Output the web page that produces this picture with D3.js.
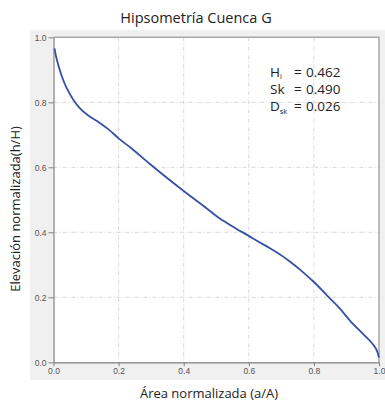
<!DOCTYPE html>
<html><head><meta charset="utf-8">
<script src="https://cdn.jsdelivr.net/npm/d3@7"></script>
<style>body{margin:0;background:#fff}svg{display:block}</style>
</head><body>
<script>
const areaVals = [0.003, 0.007, 0.012, 0.02, 0.03, 0.045, 0.065, 0.08, 0.11, 0.14, 0.17, 0.2, 0.24, 0.3, 0.4, 0.47, 0.51, 0.56, 0.6, 0.63, 0.665, 0.7, 0.73, 0.76, 0.8, 0.85, 0.88, 0.91, 0.955, 0.98, 0.995, 1.0];
const elevVals = [0.966, 0.945, 0.925, 0.897, 0.868, 0.835, 0.802, 0.783, 0.757, 0.738, 0.716, 0.689, 0.658, 0.607, 0.527, 0.474, 0.443, 0.412, 0.389, 0.371, 0.351, 0.329, 0.307, 0.283, 0.247, 0.196, 0.165, 0.129, 0.083, 0.057, 0.032, 0.015];
const tickVals = [0, 0.2, 0.4, 0.6, 0.8, 1.0];
const statLabels = [["H","i"],["Sk",""],["D","sk"]];
const statValues = ["0.462","0.490","0.026"];
const title = "Hipsometría Cuenca G";
const xTitle = "Área normalizada (a/A)";
const yTitle = "Elevación normalizada(h/H)";

const W=385,H=408;
const svg=d3.select("body").append("svg").attr("width",W).attr("height",H);
const x0=53.5,x1=379,y0=362.3,y1=37.3;
const x=d3.scaleLinear().domain([0,1]).range([x0,x1]);
const y=d3.scaleLinear().domain([0,1]).range([y0,y1]);

svg.append("rect").attr("x",30).attr("y",30).attr("width",355).attr("height",350).attr("fill","#f0f0f0");
svg.append("rect").attr("x",x0).attr("y",y1).attr("width",x1-x0).attr("height",y0-y1).attr("fill","#fff");

// grid
const g=svg.append("g");
g.selectAll(".gx").data(tickVals.filter(d=>d>0&&d<1)).join("line")
 .attr("x1",d=>x(d)).attr("x2",d=>x(d)).attr("y1",y1).attr("y2",y0)
 .attr("stroke","#d8d8d8").attr("stroke-dasharray","4,2,1,2");
g.selectAll(".gy").data(tickVals.filter(d=>d>0&&d<1)).join("line")
 .attr("y1",d=>y(d)).attr("y2",d=>y(d)).attr("x1",x0).attr("x2",x1)
 .attr("stroke","#d8d8d8").attr("stroke-dasharray","4,2,1,2");

// frame top/right
svg.append("path").attr("d",`M${x0},${y1}H${x1}V${y0}`).attr("fill","none").attr("stroke","#a8a8a8").attr("stroke-width",1.5);

const fmt=d3.format(".1f");
const xa=svg.append("g").attr("transform",`translate(0,${y0})`).call(d3.axisBottom(x).tickValues(tickVals).tickFormat(fmt).tickSize(4).tickSizeOuter(0));
const ya=svg.append("g").attr("transform",`translate(${x0},0)`).call(d3.axisLeft(y).tickValues(tickVals).tickFormat(fmt).tickSize(5).tickSizeOuter(0));
[xa,ya].forEach(a=>{
  a.select(".domain").attr("stroke","#808080").attr("stroke-width",1.2);
  a.selectAll(".tick line").attr("stroke","#808080");
  a.selectAll(".tick text").attr("fill","#555").attr("font-family","Liberation Sans, Arial, sans-serif").attr("font-size","8.5px");
});
xa.selectAll(".tick text").attr("dy","0.9em").attr("y",4);
ya.selectAll(".tick text").attr("x",-7);

// curve
const pts=areaVals.map((a,i)=>[a,elevVals[i]]);
svg.append("path").datum(pts).attr("fill","none").attr("stroke","#3650a6").attr("stroke-width",1.8)
 .attr("d",d3.line().x(d=>x(d[0])).y(d=>y(d[1])).curve(d3.curveMonotoneX));

const ff="Open Sans, Noto Sans, sans-serif";
svg.append("text").attr("x",196).attr("y",23).attr("text-anchor","middle").attr("font-family",ff).attr("font-size","14.5px").attr("fill","#222").text(title);
svg.append("text").attr("x",209).attr("y",398).attr("text-anchor","middle").attr("font-family",ff).attr("font-size","13px").attr("fill","#222").text(xTitle);
svg.append("text").attr("transform","translate(20,209) rotate(-90)").attr("text-anchor","middle").attr("font-family",ff).attr("font-size","13px").attr("fill","#222").text(yTitle);

// stats
const sg=svg.append("g").attr("font-family",ff).attr("font-size","13.5px").attr("fill","#222");
statLabels.forEach((l,i)=>{
  const yy=76.5+i*17.3;
  const t=sg.append("text").attr("x",270).attr("y",yy);
  t.append("tspan").text(l[0]);
  if(l[1]) t.append("tspan").attr("font-size","7.5px").attr("dy",2.5).text(l[1]);
  sg.append("text").attr("x",294).attr("y",yy).text("=");
  sg.append("text").attr("x",306).attr("y",yy).text(statValues[i]);
});
</script>
</body></html>
